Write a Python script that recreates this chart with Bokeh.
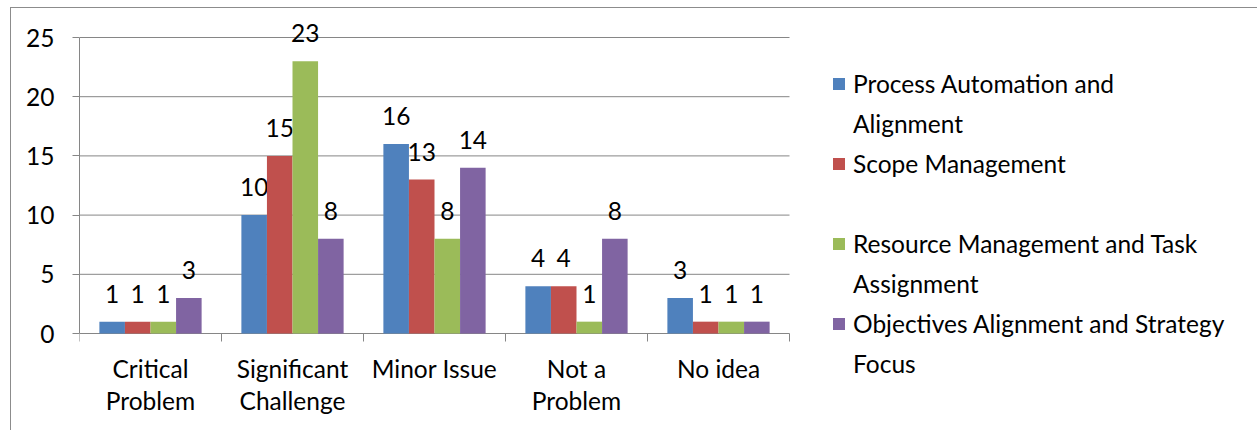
from bokeh.plotting import figure
from bokeh.models import (ColumnDataSource, Range1d, LinearAxis, FixedTicker, Legend, LegendItem)
from bokeh.core.properties import value
from bokeh.embed import file_html
from bokeh.resources import INLINE

categories = ["Critical Problem", "Significant Challenge", "Minor Issue", "Not a Problem", "No idea"]
category_labels = ["Critical\nProblem", "Significant\nChallenge", "Minor Issue", "Not a\nProblem", "No idea"]
series_names = ["Process Automation and Alignment", "Scope Management",
                "Resource Management and Task Assignment", "Objectives Alignment and Strategy Focus"]
legend_labels = ["Process Automation and\nAlignment", "Scope Management",
                 "Resource Management and Task\nAssignment", "Objectives Alignment and Strategy\nFocus"]
process_automation = [1, 10, 16, 4, 3]
scope_management = [1, 15, 13, 4, 1]
resource_management = [1, 23, 8, 1, 1]
objectives_alignment = [3, 8, 14, 8, 1]
y_ticks = [0, 5, 10, 15, 20, 25]

colors = ["#4F81BD", "#C0504D", "#9BBB59", "#8064A2"]
FONT = "Lato"
FS = "24.5px"
GRAY = "#868686"

# layout (pixels in the figure canvas)
W, H = 1247, 423
LEFT = 68
CHART_W = 710          # width of the bar area; legend sits to its right inside the frame
AXIS_Y = 325           # canvas y of the value 0
PX = 296 / 25          # pixels per unit on the value axis
n = len(categories)
centers = [i + 0.5 for i in range(n)]
bounds = list(range(n + 1))
series_values = [process_automation, scope_management, resource_management, objectives_alignment]
offsets = [-0.27, -0.09, 0.09, 0.27]
x_end = n * (W - LEFT) / CHART_W

p = figure(width=W, height=H,
           x_range=Range1d(0, x_end), y_range=Range1d(-(H - AXIS_Y) / PX, AXIS_Y / PX),
           output_backend="svg", toolbar_location=None,
           x_axis_location=None, y_axis_location=None,
           min_border_left=LEFT, min_border_top=0, min_border_bottom=0, min_border_right=0)
p.outline_line_color = None
p.xgrid.visible = False
p.ygrid.visible = False
p.margin = (7, 0, 0, 10)
p.styles = {"border-left": "1px solid #8c8c8c", "border-top": "1px solid #8c8c8c"}

# horizontal gridlines (the one at 0 is the category axis line)
p.segment(x0=[0] * len(y_ticks), x1=[n] * len(y_ticks), y0=y_ticks, y1=y_ticks,
          line_color=GRAY, line_width=1)
# tick marks between categories
p.segment(x0=bounds, x1=bounds, y0=[0] * len(bounds), y1=[-8 / PX] * len(bounds),
          line_color=GRAY, line_width=1)
# category labels
p.text(x=centers, y=[0] * n, text=category_labels,
       text_font=value(FONT), text_font_size=FS, text_color="black",
       text_align="center", text_baseline="top", text_line_height=1.12, y_offset=20)

yaxis = LinearAxis(ticker=FixedTicker(ticks=y_ticks), bounds=(0, 25))
yaxis.axis_line_color = GRAY
yaxis.major_tick_line_color = GRAY
yaxis.major_tick_out = 7
yaxis.major_tick_in = 0
yaxis.minor_tick_line_color = None
yaxis.major_label_text_font = FONT
yaxis.major_label_text_font_size = FS
yaxis.major_label_text_color = "black"
yaxis.major_label_standoff = 18
p.add_layout(yaxis, "left")

items = []
for vals, off, c, lab in zip(series_values, offsets, colors, legend_labels):
    src = ColumnDataSource(dict(x=[cx + off for cx in centers], top=vals, t=[str(v) for v in vals]))
    r = p.vbar(x="x", top="top", width=0.18, source=src, fill_color=c, line_color=None)
    p.text(x="x", y="top", text="t", source=src,
           text_font=value(FONT), text_font_size=FS, text_color="black",
           text_align="center", text_baseline="alphabetic", y_offset=-28)
    lines = lab.split("\n")
    if len(lines) == 1:
        lines.append(" ")
    items.append(LegendItem(label=lines[0], renderers=[r]))
    blank = p.vbar(x=[], top=[], width=0.18, fill_alpha=0, line_alpha=0)
    items.append(LegendItem(label=lines[1], renderers=[blank]))

legend = Legend(items=items, location=(CHART_W + 42, 53), orientation="vertical", ncols=1)
legend.border_line_color = None
legend.background_fill_alpha = 0
legend.padding = 0
legend.margin = 0
legend.spacing = 10
legend.glyph_width = 15
legend.glyph_height = 15
legend.label_standoff = 7
legend.label_text_font = FONT
legend.label_text_font_size = FS
legend.label_text_color = "black"
legend.label_height = 30
p.add_layout(legend, "center")

open("out.html", "w").write(file_html(p, INLINE))
